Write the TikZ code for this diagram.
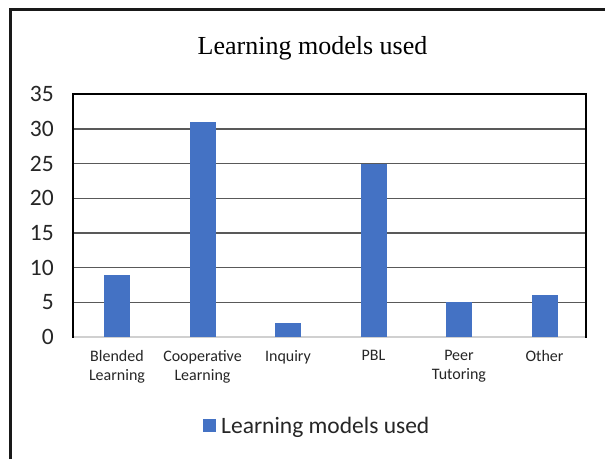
\documentclass[tikz,border=0pt]{standalone}
\usepackage{fontspec}
\setmainfont{Liberation Serif}
\setsansfont{Carlito}
\definecolor{barblue}{HTML}{4472C4}
\definecolor{gridgray}{HTML}{595959}
\definecolor{basegray}{HTML}{D0D0D0}
\tikzset{
  bar/.style={fill=barblue, draw=none},
  grid line/.style={draw=gridgray, line width=1.4pt},
  frame line/.style={draw=black, line width=2pt},
  tick label/.style={font=\sffamily\fontsize{23.5}{28}\selectfont, anchor=east, inner sep=0pt, text=black!85},
  cat label/.style={font=\sffamily\fontsize{16}{19}\selectfont, anchor=north, inner sep=0pt, align=center, text=black!85},
}
\begin{document}
\begin{tikzpicture}[x=1pt,y=-1pt]
\useasboundingbox (0,0) rectangle (605,459);
\fill[white] (0,0) rectangle (605,459);
% outer frame (left and top)
\draw[line width=3pt, black!90] (10.5,459) -- (10.5,9.5) -- (605,9.5);
% title
\node[font=\rmfamily\fontsize{26}{30}\selectfont, anchor=base, inner sep=0pt] (title) at (312.5,54.3) {Learning models used};
% gridlines
\foreach \v in {5,10,...,30} {
  \draw[grid line] (73,{337-6.94*\v}) -- (586,{337-6.94*\v});
}
% baseline
\draw[basegray, line width=1.2pt] (73,337) -- (586,337);
% bars
\foreach \c/\v in {117/9, 202.5/31, 288/2, 373.5/25, 459/5, 544.5/6} {
  \fill[bar] ({\c-13},337) rectangle ({\c+13},{337-6.94*\v});
}
% plot frame
\draw[frame line] (73,337.5) -- (73,94) -- (586,94) -- (586,337.5);
% tick labels
\foreach \v in {0,5,...,35} {
  \node[tick label] (t\v) at (54,{337-6.94*\v}) {\v};
}
% category labels
\node[cat label] (c1) at (117,350) {Blended\\Learning};
\node[cat label] (c2) at (202.5,350) {Cooperative\\Learning};
\node[cat label] (c3) at (288,350) {Inquiry};
\node[cat label] (c4) at (373.5,350) {PBL};
\node[cat label] (c5) at (459,350) {Peer\\Tutoring};
\node[cat label] (c6) at (544.5,350) {Other};
% legend
\fill[bar] (203,419) rectangle (216,432);
\node[font=\sffamily\fontsize{23.5}{28}\selectfont, anchor=base west, inner sep=0pt, text=black!85] (leg) at (221,433.5) {Learning models used};
\end{tikzpicture}
\end{document}
